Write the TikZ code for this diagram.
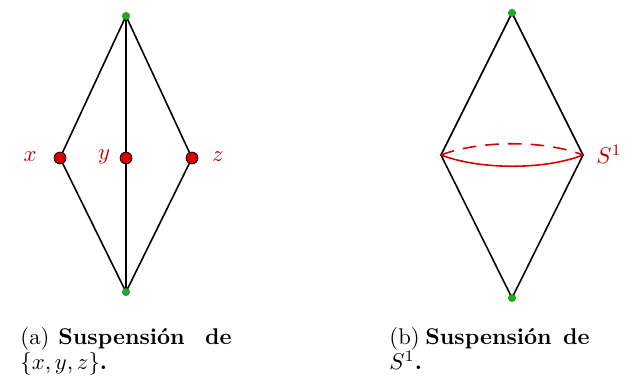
\documentclass[tikz,border=0pt]{standalone}
\usepackage{fontspec}
\begin{document}
\begin{tikzpicture}[x=0.44pt,y=-0.44pt,
  edge/.style={line width=0.7pt,black},
  reddot/.style={circle,fill=red!85!black,draw=black,line width=0.35pt,inner sep=0pt,minimum size=5.2pt},
  greendot/.style={circle,fill=green!75!black,draw=black!60,line width=0.3pt,inner sep=0pt,minimum size=3.2pt},
  lbl/.style={text=red!75!black},
  captext/.style={anchor=base west,inner sep=0pt,font=\fontsize{10}{12}\selectfont}]
\useasboundingbox (0,0) rectangle (636,383);
% left figure
\coordinate (T) at (126,16);
\coordinate (B) at (126,292);
\coordinate (X) at (60,158);
\coordinate (Y) at (126,158);
\coordinate (Z) at (192,158);
\draw[edge] (T) -- (X) -- (B) -- (Z) -- cycle;
\draw[edge] (T) -- (B);
\node[reddot] (x) at (X) {};
\node[reddot] (y) at (Y) {};
\node[reddot] (z) at (Z) {};
\node[greendot] (t) at (T) {};
\node[greendot] (b) at (B) {};
\node[lbl] (lx) at (30,157) {$x$};
\node[lbl] (ly) at (104,157) {$y$};
\node[lbl] (lz) at (218,157) {$z$};
% right figure
\coordinate (T2) at (512,13);
\coordinate (B2) at (512,298);
\coordinate (L2) at (441,155);
\coordinate (R2) at (583,155);
\draw[edge] (T2) -- (L2) -- (B2) -- (R2) -- cycle;
\draw[red!85!black,line width=0.7pt] (L2) .. controls (480,170) and (545,170) .. (R2);
\draw[red!85!black,line width=0.7pt,dash pattern=on 6pt off 4pt] (L2) .. controls (480,140) and (545,140) .. (R2);
\node[greendot] (t2) at (T2) {};
\node[greendot] (b2) at (B2) {};
\node[lbl] (ls) at (609,154) {$S^1$};
% captions
\node[captext] (ca1) at (20,345) {(a)};
\node[captext] (ca2) at (58,345) {\bfseries Suspensión};
\node[captext,anchor=base east] (ca3) at (232,345) {\bfseries de};
\node[captext] (ca4) at (20,370) {$\{x,y,z\}$\textbf{.}};
\node[captext] (cb1) at (389,345) {(b)};
\node[captext] (cb2) at (425,345) {\bfseries Suspensión};
\node[captext,anchor=base east] (cb3) at (590,345) {\bfseries de};
\node[captext] (cb4) at (389,370) {$S^1$\textbf{.}};
\end{tikzpicture}
\end{document}
